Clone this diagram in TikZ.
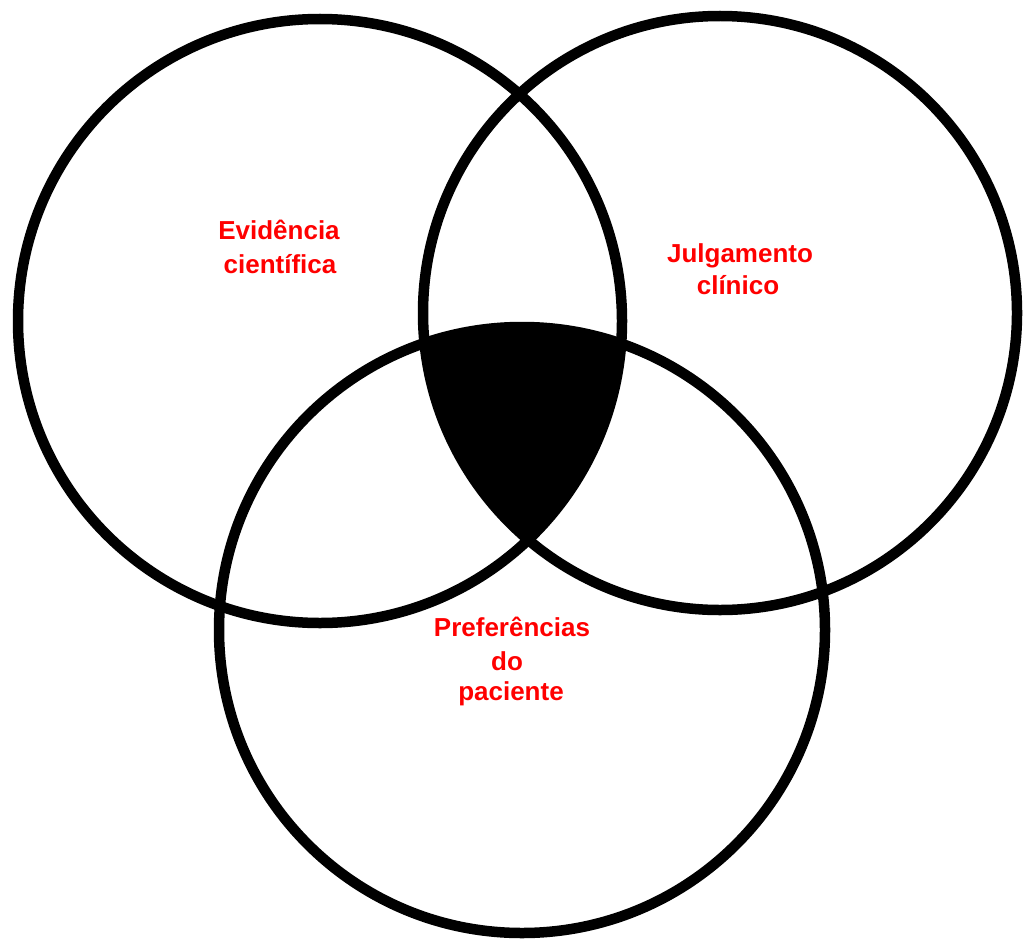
\documentclass[tikz,border=0pt]{standalone}
\usepackage{fontspec}
\setmainfont{Liberation Sans}
\begin{document}
\begin{tikzpicture}[x=1pt,y=-1pt,
  ring/.style={draw=black,line width=10.5pt},
  lbl/.style={text=red,font=\bfseries\fontsize{26}{32}\selectfont,inner sep=0pt,anchor=base}]
\useasboundingbox[fill=white] (0,0) rectangle (1024,939);
\coordinate (cA) at (320,321);
\coordinate (cB) at (720,313);
\coordinate (cC) at (522,630);
\begin{scope}
  \clip (cA) circle[radius=302];
  \clip (cB) circle[radius=297];
  \fill[black] (cC) circle[radius=303];
\end{scope}
\draw[ring] (cA) circle[radius=302];
\draw[ring] (cB) circle[radius=297];
\draw[ring] (cC) circle[radius=303];
\node[lbl] (ev1) at (279,239) {Evidência};
\node[lbl] (ev2) at (280,273) {científica};
\node[lbl] (jc1) at (740,262) {Julgamento};
\node[lbl] (jc2) at (738,294) {clínico};
\node[lbl] (pp1) at (512,636) {Preferências};
\node[lbl] (pp2) at (507,670) {do};
\node[lbl] (pp3) at (511,700) {paciente};
\end{tikzpicture}
\end{document}
